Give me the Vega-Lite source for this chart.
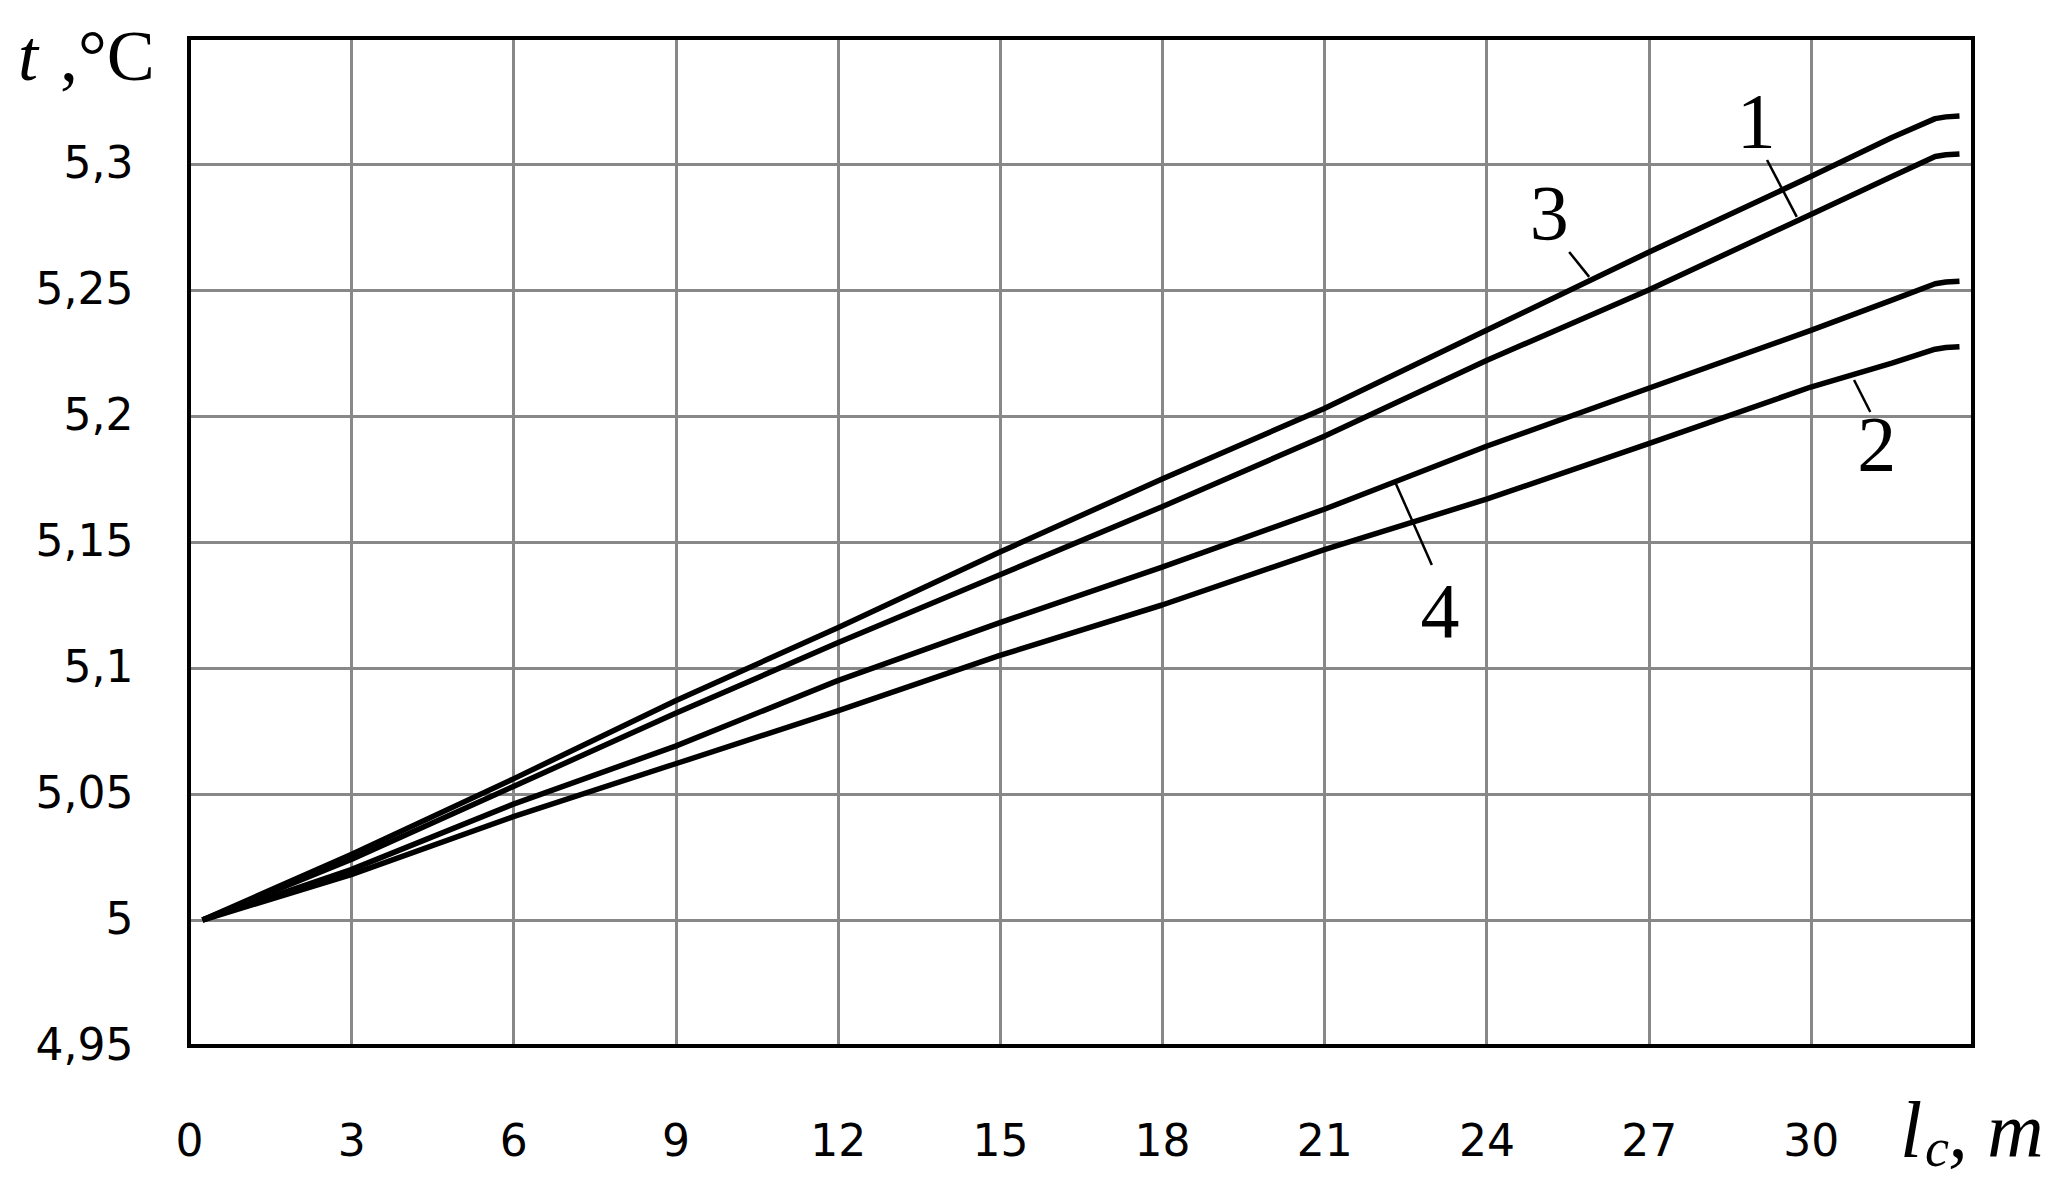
{
  "$schema": "https://vega.github.io/schema/vega-lite/v6.json",
  "width": 1784,
  "height": 1008,
  "autosize": {"type": "none"},
  "padding": {"left": 189, "top": 38, "right": 84, "bottom": 146},
  "background": "white",
  "config": {"view": {"stroke": "#000", "strokeWidth": 4}},
  "datasets": {
    "curves": [
      {"curve": "1", "x": 0.25, "t": 5.0}, {"curve": "1", "x": 3, "t": 5.024}, {"curve": "1", "x": 6, "t": 5.053}, {"curve": "1", "x": 9, "t": 5.082}, {"curve": "1", "x": 12, "t": 5.110}, {"curve": "1", "x": 15, "t": 5.137}, {"curve": "1", "x": 18, "t": 5.164}, {"curve": "1", "x": 21, "t": 5.192}, {"curve": "1", "x": 24, "t": 5.222}, {"curve": "1", "x": 27, "t": 5.250}, {"curve": "1", "x": 30, "t": 5.280}, {"curve": "1", "x": 31.5, "t": 5.295}, {"curve": "1", "x": 32.3, "t": 5.303}, {"curve": "1", "x": 32.5, "t": 5.3037}, {"curve": "1", "x": 32.75, "t": 5.304},
      {"curve": "2", "x": 0.25, "t": 5.0}, {"curve": "2", "x": 3, "t": 5.018}, {"curve": "2", "x": 6, "t": 5.041}, {"curve": "2", "x": 9, "t": 5.062}, {"curve": "2", "x": 12, "t": 5.083}, {"curve": "2", "x": 15, "t": 5.105}, {"curve": "2", "x": 18, "t": 5.125}, {"curve": "2", "x": 21, "t": 5.147}, {"curve": "2", "x": 24, "t": 5.167}, {"curve": "2", "x": 27, "t": 5.189}, {"curve": "2", "x": 30, "t": 5.2115}, {"curve": "2", "x": 31.5, "t": 5.221}, {"curve": "2", "x": 32.3, "t": 5.2265}, {"curve": "2", "x": 32.5, "t": 5.2272}, {"curve": "2", "x": 32.75, "t": 5.2275},
      {"curve": "3", "x": 0.25, "t": 5.0}, {"curve": "3", "x": 3, "t": 5.026}, {"curve": "3", "x": 6, "t": 5.056}, {"curve": "3", "x": 9, "t": 5.087}, {"curve": "3", "x": 12, "t": 5.116}, {"curve": "3", "x": 15, "t": 5.146}, {"curve": "3", "x": 18, "t": 5.175}, {"curve": "3", "x": 21, "t": 5.203}, {"curve": "3", "x": 24, "t": 5.234}, {"curve": "3", "x": 27, "t": 5.265}, {"curve": "3", "x": 30, "t": 5.295}, {"curve": "3", "x": 31.5, "t": 5.3105}, {"curve": "3", "x": 32.3, "t": 5.318}, {"curve": "3", "x": 32.5, "t": 5.3187}, {"curve": "3", "x": 32.75, "t": 5.319},
      {"curve": "4", "x": 0.25, "t": 5.0}, {"curve": "4", "x": 3, "t": 5.020}, {"curve": "4", "x": 6, "t": 5.046}, {"curve": "4", "x": 9, "t": 5.069}, {"curve": "4", "x": 12, "t": 5.095}, {"curve": "4", "x": 15, "t": 5.118}, {"curve": "4", "x": 18, "t": 5.140}, {"curve": "4", "x": 21, "t": 5.163}, {"curve": "4", "x": 24, "t": 5.188}, {"curve": "4", "x": 27, "t": 5.211}, {"curve": "4", "x": 30, "t": 5.234}, {"curve": "4", "x": 31.5, "t": 5.246}, {"curve": "4", "x": 32.3, "t": 5.2525}, {"curve": "4", "x": 32.5, "t": 5.2532}, {"curve": "4", "x": 32.75, "t": 5.2535}
    ],
    "leaders": [
      {"curve": "1", "x": 29.19, "t": 5.3016, "x2": 29.74, "t2": 5.279},
      {"curve": "3", "x": 25.53, "t": 5.2651, "x2": 25.90, "t2": 5.2552},
      {"curve": "2", "x": 30.80, "t": 5.2143, "x2": 31.10, "t2": 5.2016},
      {"curve": "4", "x": 22.99, "t": 5.1409, "x2": 22.31, "t2": 5.1738}
    ],
    "labels": [
      {"curve": "1", "x": 28.99, "t": 5.3159},
      {"curve": "3", "x": 25.16, "t": 5.2794},
      {"curve": "2", "x": 31.22, "t": 5.1877},
      {"curve": "4", "x": 23.14, "t": 5.1214}
    ]
  },
  "layer": [
    {
      "data": {"name": "curves"},
      "mark": {"type": "line", "color": "black", "strokeWidth": 5.5, "interpolate": "linear", "strokeJoin": "round"},
      "encoding": {
        "x": {
          "field": "x", "type": "quantitative", "title": null,
          "scale": {"domain": [0, 33], "nice": false, "zero": false},
          "axis": {
            "values": [0, 3, 6, 9, 12, 15, 18, 21, 24, 27, 30],
            "grid": true,
            "gridColor": "#888888",
            "gridWidth": 3,
            "domain": false, "ticks": false,
            "labelPadding": 74,
            "labelFont": "DejaVu Sans", "labelFontSize": 44, "labelColor": "#000",
            "labelFlush": false
          }
        },
        "y": {
          "field": "t", "type": "quantitative", "title": null,
          "scale": {"domain": [4.95, 5.35], "nice": false, "zero": false},
          "axis": {
            "values": [4.95, 5.0, 5.05, 5.1, 5.15, 5.2, 5.25, 5.3],
            "labelExpr": "replace(format(datum.value, '~g'), '.', ',')",
            "grid": true,
            "gridColor": "#888888",
            "gridWidth": 3,
            "domain": false, "ticks": false,
            "labelPadding": 56,
            "labelFont": "DejaVu Sans", "labelFontSize": 44, "labelColor": "#000",
            "labelFlush": false
          }
        },
        "detail": {"field": "curve"}
      }
    },
    {
      "data": {"values": [{"x0": 0, "x1": 33, "t0": 4.95, "t1": 5.35}]},
      "mark": {"type": "rect", "fill": null, "fillOpacity": 0, "stroke": "black", "strokeWidth": 4},
      "encoding": {
        "x": {"field": "x0", "type": "quantitative", "title": null},
        "x2": {"field": "x1"},
        "y": {"field": "t0", "type": "quantitative", "title": null},
        "y2": {"field": "t1"}
      }
    },
    {
      "data": {"name": "leaders"},
      "mark": {"type": "rule", "color": "black", "strokeWidth": 2.5},
      "encoding": {
        "x": {"field": "x", "type": "quantitative", "title": null},
        "y": {"field": "t", "type": "quantitative", "title": null},
        "x2": {"field": "x2"},
        "y2": {"field": "t2"}
      }
    },
    {
      "data": {"name": "labels"},
      "mark": {"type": "text", "font": "Liberation Serif", "fontSize": 78, "color": "black", "align": "center", "baseline": "middle"},
      "encoding": {
        "x": {"field": "x", "type": "quantitative", "title": null},
        "y": {"field": "t", "type": "quantitative", "title": null},
        "text": {"field": "curve"}
      }
    },
    {
      "data": {"values": [{"x": -3.163, "t": 5.3333, "text": "t"}]},
      "mark": {"type": "text", "font": "Liberation Serif", "fontSize": 72, "fontStyle": "italic", "color": "black", "align": "left", "baseline": "alphabetic"},
      "encoding": {
        "x": {"field": "x", "type": "quantitative", "title": null},
        "y": {"field": "t", "type": "quantitative", "title": null},
        "text": {"field": "text"}
      }
    },
    {
      "data": {"values": [{"x": -2.386, "t": 5.3333, "text": ",°C"}]},
      "mark": {"type": "text", "font": "Liberation Serif", "fontSize": 72, "color": "black", "align": "left", "baseline": "alphabetic"},
      "encoding": {
        "x": {"field": "x", "type": "quantitative", "title": null},
        "y": {"field": "t", "type": "quantitative", "title": null},
        "text": {"field": "text"}
      }
    },
    {
      "data": {"values": [{"x": 31.65, "t": 4.906, "text": "l"}]},
      "mark": {"type": "text", "font": "Liberation Serif", "fontSize": 80, "fontStyle": "italic", "color": "black", "align": "left", "baseline": "alphabetic"},
      "encoding": {
        "x": {"field": "x", "type": "quantitative", "title": null},
        "y": {"field": "t", "type": "quantitative", "title": null},
        "text": {"field": "text"}
      }
    },
    {
      "data": {"values": [{"x": 32.11, "t": 4.9024, "text": "c"}]},
      "mark": {"type": "text", "font": "Liberation Serif", "fontSize": 54, "fontStyle": "italic", "color": "black", "align": "left", "baseline": "alphabetic"},
      "encoding": {
        "x": {"field": "x", "type": "quantitative", "title": null},
        "y": {"field": "t", "type": "quantitative", "title": null},
        "text": {"field": "text"}
      }
    },
    {
      "data": {"values": [{"x": 32.54, "t": 4.906, "text": ", m"}]},
      "mark": {"type": "text", "font": "Liberation Serif", "fontSize": 78, "fontStyle": "italic", "color": "black", "align": "left", "baseline": "alphabetic"},
      "encoding": {
        "x": {"field": "x", "type": "quantitative", "title": null},
        "y": {"field": "t", "type": "quantitative", "title": null},
        "text": {"field": "text"}
      }
    }
  ]
}
